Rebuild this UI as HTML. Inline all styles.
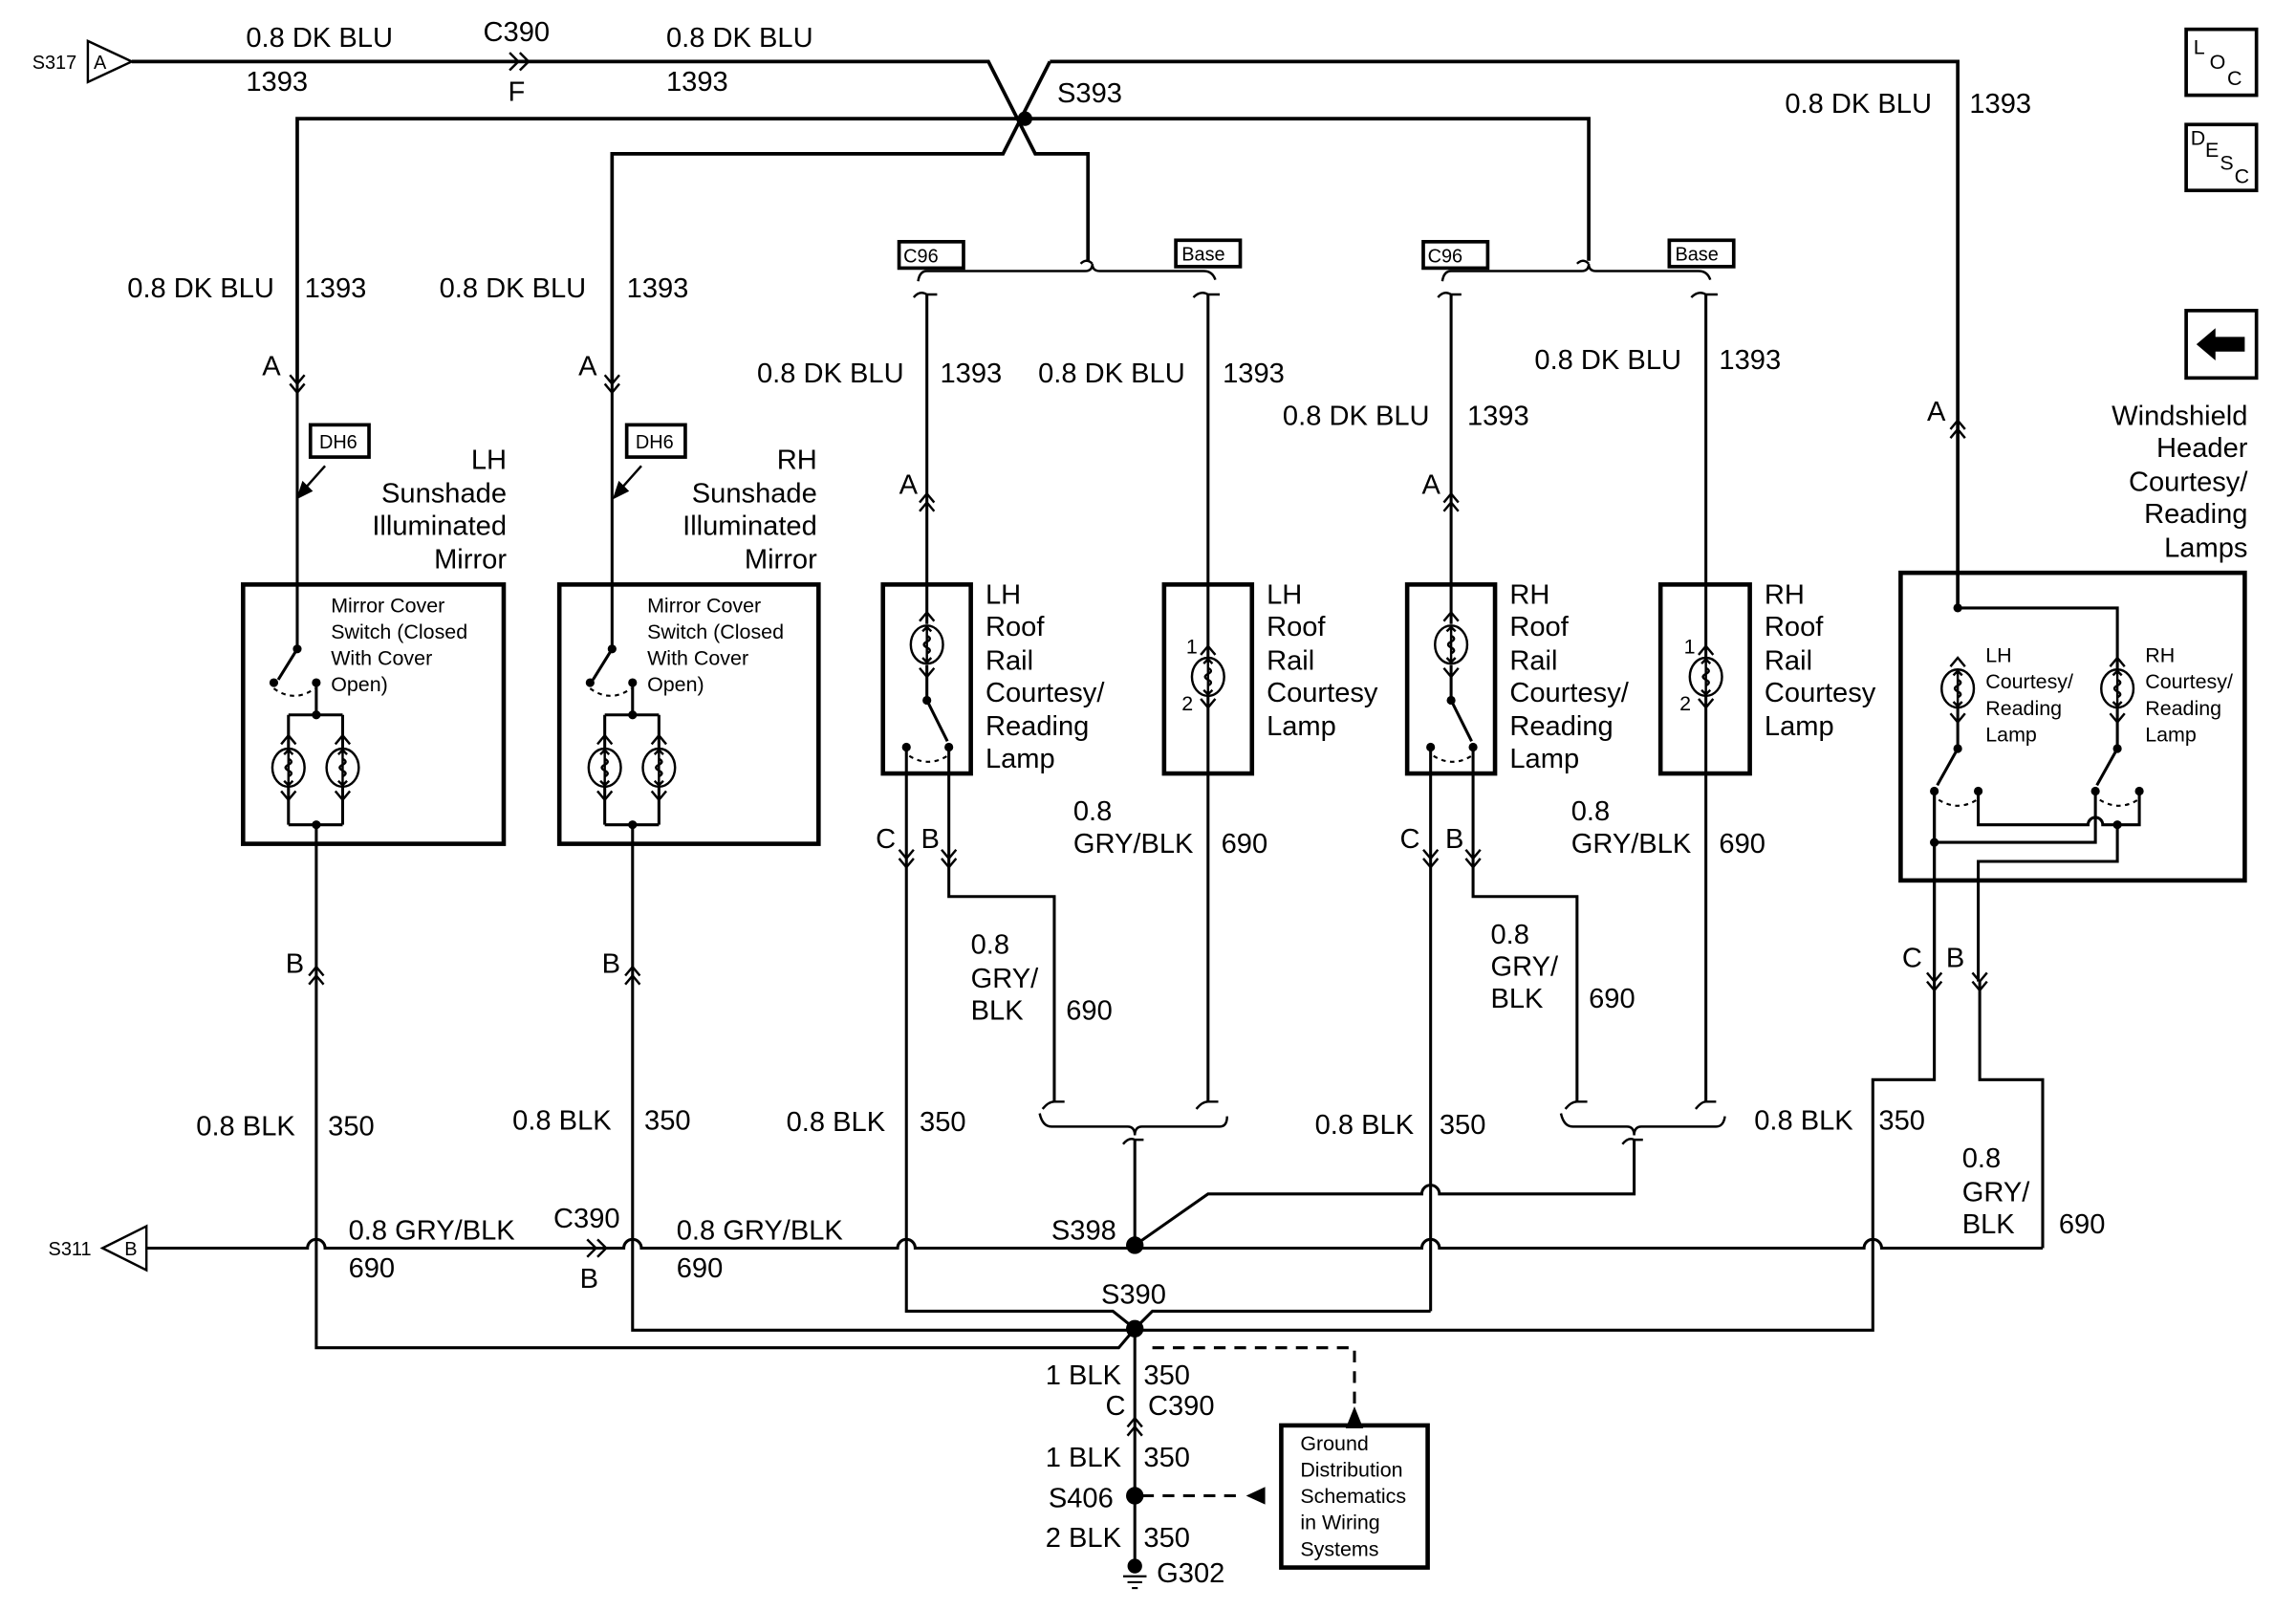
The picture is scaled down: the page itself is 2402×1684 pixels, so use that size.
<!DOCTYPE html>
<html><head><meta charset="utf-8"><style>
html,body{margin:0;padding:0;background:#fff}
svg{display:block}
text{font-family:"Liberation Sans",sans-serif;font-size:19px;fill:#000}
.s{font-size:14px}
.t{font-size:13px}
</style></head><body>
<svg width="2402" height="1684" viewBox="0 0 1568 1099" preserveAspectRatio="none" xmlns="http://www.w3.org/2000/svg">
<defs>
<g id="fdd"><path d="M-5,-12 L0,-6 L5,-12 M-5,-6 L0,0 L5,-6" fill="none" stroke="#000" stroke-width="1.6"/></g>
<g id="fuu"><path d="M-5,12 L0,6 L5,12 M-5,6 L0,0 L5,6" fill="none" stroke="#000" stroke-width="1.6"/></g>
<g id="lamp" fill="none" stroke="#000" stroke-width="1.6">
<ellipse cx="0" cy="0" rx="11" ry="13" fill="#fff"/>
<path d="M0,-12 L0,12 M-3,-9 L0,-12 L3,-9 M-3,9 L0,12 L3,9 M0,-6 q4,2 0,4 q-4,2 0,4 q4,2 0,4"/>
</g>
</defs>
<g fill="none" stroke="#000" stroke-width="2">
<polygon points="60,28 90,42 60,56" stroke-width="1.6"/>
<path d="M90,42 H675 L707,105 H743 V178" stroke-width="2.4"/>
<path d="M717,42 H1337 V415" stroke-width="2.4"/>
<path d="M717,42 L685,105 H418 V262" stroke-width="2.4"/>
<path d="M203,262 V81 H1085 V178" stroke-width="2.4"/>
<path d="M348,36 L354,42 L348,48 M355,36 L361,42 L355,48" stroke-width="1.6"/>
<path d="M627,192 Q628,185 633,185 H741 Q746,185 746,180 Q746,185 751,185 H822 Q828,185 830,191" stroke-width="1.6"/>
<path d="M738,180 Q742,176 746,180" stroke-width="1.6"/>
<path d="M624,203 Q628,198 633,201 H640" stroke-width="1.6"/>
<path d="M815,203 Q820,198 825,201 H833" stroke-width="1.6"/>
<path d="M985,192 Q986,185 991,185 H1080 Q1085,185 1085,180 Q1085,185 1090,185 H1160 Q1166,185 1168,191" stroke-width="1.6"/>
<path d="M1077,180 Q1081,176 1085,180" stroke-width="1.6"/>
<path d="M982,203 Q986,198 991,201 H998" stroke-width="1.6"/>
<path d="M1155,203 Q1160,198 1165,201 H1173" stroke-width="1.6"/>
<rect x="166" y="399" width="178" height="177" stroke-width="3"/>
<path d="M203,262 V443 L190,464"/>
<path d="M216,466 V488 M197,488 H234 M197,488 V511 M234,488 V511 M197,537 V563 M234,537 V563 M197,563 H234 M216,563 V920 H764 L775,907"/>
<path d="M187,470 q14,10 28,0" stroke-dasharray="3,3" stroke-width="1.4"/>
<path d="M222,318 L206,336" stroke-width="1.6"/><path d="M204,339 L207,330 L212,335Z" fill="#000"/>
<rect x="212" y="290" width="40" height="22" stroke-width="2.4"/>
<rect x="382" y="399" width="177" height="177" stroke-width="3"/>
<path d="M418,262 V443 L405,464"/>
<path d="M432,466 V488 M413,488 H450 M413,488 V511 M450,488 V511 M413,537 V563 M450,537 V563 M413,563 H450 M432,563 V908 H1279 V737 H1321 V540"/>
<path d="M403,470 q14,10 28,0" stroke-dasharray="3,3" stroke-width="1.4"/>
<path d="M438,318 L422,336" stroke-width="1.6"/><path d="M420,339 L423,330 L428,335Z" fill="#000"/>
<rect x="428" y="290" width="40" height="22" stroke-width="2.4"/>
<rect x="614" y="165" width="44" height="18" stroke-width="2.4"/>
<rect x="803" y="164" width="44" height="18" stroke-width="2.4"/>
<rect x="972" y="165" width="44" height="18" stroke-width="2.4"/>
<rect x="1140" y="164" width="44" height="18" stroke-width="2.4"/>
<rect x="603" y="399" width="60" height="129" stroke-width="3"/>
<path d="M633,201 V426 M633,454 V478 L647,506"/>
<path d="M619,511 V895 H760 L775,907 L787,895 H977"/>
<path d="M648,511 V612 H720 V752"/>
<path d="M621,516 q13,8 26,0" stroke-dasharray="3,3" stroke-width="1.4"/>
<rect x="795" y="399" width="60" height="129" stroke-width="3"/>
<path d="M825,201 V449 M825,475 V752"/>
<rect x="961" y="399" width="60" height="129" stroke-width="3"/>
<path d="M991,201 V426 M991,454 V478 L1005,506"/>
<path d="M977,511 V895"/>
<path d="M1006,511 V612 H1077 V752"/>
<path d="M979,516 q13,8 26,0" stroke-dasharray="3,3" stroke-width="1.4"/>
<rect x="1134" y="399" width="61" height="129" stroke-width="3"/>
<path d="M1165,201 V449 M1165,475 V752"/>
<rect x="1298" y="391" width="235" height="210" stroke-width="3"/>
<path d="M1337,415 H1446 V457 M1337,483 V511 L1323,536 M1446,483 V511 L1432,536"/>
<path d="M1321,540 V670"/>
<path d="M1351,540 V563 H1426 a5,5 0 0 1 10,0 H1461 V540"/>
<path d="M1321,575 H1431 V540"/>
<path d="M1446,563 V588 H1351 V670"/>
<path d="M1324,546 q13,8 26,0 M1434,546 q13,8 26,0" stroke-dasharray="3,3" stroke-width="1.4"/>
<path d="M1352,670 V737 H1395 V852"/>
<path d="M710,760 Q712,769 718,769 H770 Q775,769 775,775 Q775,769 780,769 H833 Q838,769 838,762" stroke-width="1.6"/>
<path d="M712,757 Q716,752 720,752 H727" stroke-width="1.6"/>
<path d="M817,757 Q821,752 825,752 H832" stroke-width="1.6"/>
<path d="M767,781 Q771,776 775,778 H781" stroke-width="1.6"/>
<path d="M1066,760 Q1068,769 1074,769 H1111 Q1116,769 1116,775 Q1116,769 1121,769 H1172 Q1177,769 1178,762" stroke-width="1.6"/>
<path d="M1069,757 Q1073,752 1077,752 H1084" stroke-width="1.6"/>
<path d="M1158,757 Q1162,752 1165,752 H1172" stroke-width="1.6"/>
<path d="M1108,781 Q1112,776 1116,778 H1122" stroke-width="1.6"/>
<path d="M775,778 V850 L825,815 H971 a6,6 0 0 1 12,0 H1116 V778"/>
<polygon points="100,837 70,852 100,867" stroke-width="1.6"/>
<path d="M100,852 H210 a6,6 0 0 1 12,0 H426 a6,6 0 0 1 12,0 H613 a6,6 0 0 1 12,0 H971 a6,6 0 0 1 12,0 H1273 a6,6 0 0 1 12,0 H1395"/>
<path d="M401,846 L407,852 L401,858 M408,846 L414,852 L408,858" stroke-width="1.6"/>
<path d="M775,907 V1068"/>
<path d="M787,920 H925 V962" stroke-dasharray="8,6"/>
<path d="M919,975 L925,960 L931,975Z" fill="#000" stroke="none"/>
<path d="M780,1021 H850" stroke-dasharray="8,6"/>
<path d="M851,1021 L864,1015 L864,1027Z" fill="#000" stroke="none"/>
<rect x="875" y="973" width="100" height="97" stroke-width="3"/>
<path d="M767,1076 H783 M770,1080 H780 M773,1084 H777" stroke-width="1.4"/>
<rect x="1493" y="20" width="48" height="45" stroke-width="2.4"/>
<rect x="1493" y="85" width="48" height="45" stroke-width="2.4"/>
<rect x="1493" y="212" width="48" height="46" stroke-width="2.4"/>
</g>
<path d="M1500,235 L1513,224 V230 H1533 V240 H1513 V246Z" fill="#000"/>
<use href="#fdd" x="203" y="268"/><use href="#fdd" x="418" y="268"/>
<use href="#fuu" x="633" y="337"/><use href="#fuu" x="991" y="337"/><use href="#fuu" x="1337" y="287"/>
<use href="#fuu" x="216" y="660"/><use href="#fuu" x="432" y="660"/>
<use href="#fdd" x="619" y="592"/><use href="#fdd" x="648" y="592"/>
<use href="#fdd" x="977" y="592"/><use href="#fdd" x="1006" y="592"/>
<use href="#fdd" x="1321" y="676"/><use href="#fdd" x="1352" y="676"/>
<use href="#fuu" x="775" y="968"/>
<g fill="none" stroke="#000" stroke-width="1.6">
<path d="M192,508 L197,502 L202,508 M229,508 L234,502 L239,508 M192,540 L197,546 L202,540 M229,540 L234,546 L239,540"/>
<path d="M408,508 L413,502 L418,508 M445,508 L450,502 L455,508 M408,540 L413,546 L418,540 M445,540 L450,546 L455,540"/>
<path d="M628,424 L633,418 L638,424 M628,456 L633,462 L638,456 M986,424 L991,418 L996,424 M986,456 L991,462 L996,456"/>
<path d="M820,447 L825,441 L830,447 M820,477 L825,483 L830,477 M1160,447 L1165,441 L1170,447 M1160,477 L1165,483 L1170,477"/>
<path d="M1332,455 L1337,449 L1342,455 M1332,487 L1337,493 L1342,487 M1441,455 L1446,449 L1451,455 M1441,487 L1446,493 L1451,487"/>
</g>
<use href="#lamp" x="197" y="524"/><use href="#lamp" x="234" y="524"/>
<use href="#lamp" x="413" y="524"/><use href="#lamp" x="450" y="524"/>
<use href="#lamp" x="633" y="440"/><use href="#lamp" x="825" y="462"/>
<use href="#lamp" x="991" y="440"/><use href="#lamp" x="1165" y="462"/>
<use href="#lamp" x="1337" y="470"/><use href="#lamp" x="1446" y="470"/>
<g fill="#000">
<circle cx="700" cy="81" r="5"/><circle cx="775" cy="850" r="6"/><circle cx="775" cy="907" r="6"/><circle cx="775" cy="1021" r="6"/><circle cx="775" cy="1069" r="5"/>
<circle cx="203" cy="443" r="3"/><circle cx="187" cy="466" r="3"/><circle cx="216" cy="466" r="3"/><circle cx="216" cy="488" r="3"/><circle cx="216" cy="563" r="3"/>
<circle cx="418" cy="443" r="3"/><circle cx="403" cy="466" r="3"/><circle cx="432" cy="466" r="3"/><circle cx="432" cy="488" r="3"/><circle cx="432" cy="563" r="3"/>
<circle cx="633" cy="478" r="3"/><circle cx="619" cy="510" r="3"/><circle cx="648" cy="510" r="3"/>
<circle cx="991" cy="478" r="3"/><circle cx="977" cy="510" r="3"/><circle cx="1006" cy="510" r="3"/>
<circle cx="1337" cy="415" r="3"/><circle cx="1337" cy="511" r="3"/><circle cx="1446" cy="511" r="3"/><circle cx="1321" cy="540" r="3"/><circle cx="1351" cy="540" r="3"/><circle cx="1431" cy="540" r="3"/><circle cx="1461" cy="540" r="3"/><circle cx="1321" cy="575" r="3"/><circle cx="1446" cy="563" r="3"/>
</g>
<text class="t" x="22" y="47">S317</text><text class="t" x="64" y="47">A</text>
<text x="168" y="32">0.8 DK BLU</text><text x="168" y="62">1393</text>
<text x="330" y="28">C390</text><text x="347" y="69">F</text>
<text x="455" y="32">0.8 DK BLU</text><text x="455" y="62">1393</text>
<text x="722" y="70">S393</text>
<text x="1219" y="77">0.8 DK BLU</text><text x="1345" y="77">1393</text>
<text x="87" y="203">0.8 DK BLU</text><text x="208" y="203">1393</text>
<text x="300" y="203">0.8 DK BLU</text><text x="428" y="203">1393</text>
<text x="179" y="256">A</text><text x="395" y="256">A</text>
<text x="614" y="337">A</text><text x="971" y="337">A</text><text x="1316" y="287">A</text>
<text class="t" x="617" y="179">C96</text><text class="t" x="807" y="178">Base</text>
<text class="t" x="975" y="179">C96</text><text class="t" x="1144" y="178">Base</text>
<text class="t" x="218" y="306">DH6</text><text class="t" x="434" y="306">DH6</text>
<g text-anchor="end"><text x="346" y="320">LH</text><text x="346" y="343">Sunshade</text><text x="346" y="365">Illuminated</text><text x="346" y="388">Mirror</text>
<text x="558" y="320">RH</text><text x="558" y="343">Sunshade</text><text x="558" y="365">Illuminated</text><text x="558" y="388">Mirror</text>
<text x="1535" y="290">Windshield</text><text x="1535" y="312">Header</text><text x="1535" y="335">Courtesy/</text><text x="1535" y="357">Reading</text><text x="1535" y="380">Lamps</text></g>
<text class="s" x="226" y="418">Mirror Cover</text><text class="s" x="226" y="436">Switch (Closed</text><text class="s" x="226" y="454">With Cover</text><text class="s" x="226" y="472">Open)</text>
<text class="s" x="442" y="418">Mirror Cover</text><text class="s" x="442" y="436">Switch (Closed</text><text class="s" x="442" y="454">With Cover</text><text class="s" x="442" y="472">Open)</text>
<text class="s" x="1356" y="452">LH</text><text class="s" x="1356" y="470">Courtesy/</text><text class="s" x="1356" y="488">Reading</text><text class="s" x="1356" y="506">Lamp</text>
<text class="s" x="1465" y="452">RH</text><text class="s" x="1465" y="470">Courtesy/</text><text class="s" x="1465" y="488">Reading</text><text class="s" x="1465" y="506">Lamp</text>
<text class="s" x="888" y="990">Ground</text><text class="s" x="888" y="1008">Distribution</text><text class="s" x="888" y="1026">Schematics</text><text class="s" x="888" y="1044">in Wiring</text><text class="s" x="888" y="1062">Systems</text>
<text class="s" x="810" y="446">1</text><text class="s" x="807" y="485">2</text><text class="s" x="1150" y="446">1</text><text class="s" x="1147" y="485">2</text>
<text x="673" y="412">LH</text><text x="673" y="434">Roof</text><text x="673" y="457">Rail</text><text x="673" y="479">Courtesy/</text><text x="673" y="502">Reading</text><text x="673" y="524">Lamp</text>
<text x="865" y="412">LH</text><text x="865" y="434">Roof</text><text x="865" y="457">Rail</text><text x="865" y="479">Courtesy</text><text x="865" y="502">Lamp</text>
<text x="1031" y="412">RH</text><text x="1031" y="434">Roof</text><text x="1031" y="457">Rail</text><text x="1031" y="479">Courtesy/</text><text x="1031" y="502">Reading</text><text x="1031" y="524">Lamp</text>
<text x="1205" y="412">RH</text><text x="1205" y="434">Roof</text><text x="1205" y="457">Rail</text><text x="1205" y="479">Courtesy</text><text x="1205" y="502">Lamp</text>
<text x="517" y="261">0.8 DK BLU</text><text x="642" y="261">1393</text><text x="709" y="261">0.8 DK BLU</text><text x="835" y="261">1393</text>
<text x="876" y="290">0.8 DK BLU</text><text x="1002" y="290">1393</text><text x="1048" y="252">0.8 DK BLU</text><text x="1174" y="252">1393</text>
<text x="598" y="579">C</text><text x="629" y="579">B</text><text x="956" y="579">C</text><text x="987" y="579">B</text>
<text x="1299" y="660">C</text><text x="1329" y="660">B</text>
<text x="195" y="664">B</text><text x="411" y="664">B</text>
<text x="733" y="560">0.8</text><text x="733" y="582">GRY/BLK</text><text x="834" y="582">690</text>
<text x="1073" y="560">0.8</text><text x="1073" y="582">GRY/BLK</text><text x="1174" y="582">690</text>
<text x="663" y="651">0.8</text><text x="663" y="674">GRY/</text><text x="663" y="696">BLK</text><text x="728" y="696">690</text>
<text x="1018" y="644">0.8</text><text x="1018" y="666">GRY/</text><text x="1018" y="688">BLK</text><text x="1085" y="688">690</text>
<text x="134" y="775">0.8 BLK</text><text x="224" y="775">350</text>
<text x="350" y="771">0.8 BLK</text><text x="440" y="771">350</text>
<text x="537" y="772">0.8 BLK</text><text x="628" y="772">350</text>
<text x="898" y="774">0.8 BLK</text><text x="983" y="774">350</text>
<text x="1198" y="771">0.8 BLK</text><text x="1283" y="771">350</text>
<text x="1340" y="797">0.8</text><text x="1340" y="820">GRY/</text><text x="1340" y="842">BLK</text><text x="1406" y="842">690</text>
<text class="t" x="33" y="857">S311</text><text class="t" x="85" y="857">B</text>
<text x="238" y="846">0.8 GRY/BLK</text><text x="238" y="872">690</text>
<text x="378" y="838">C390</text><text x="396" y="879">B</text>
<text x="462" y="846">0.8 GRY/BLK</text><text x="462" y="872">690</text>
<text x="718" y="846">S398</text><text x="752" y="890">S390</text>
<text x="714" y="945">1 BLK</text><text x="781" y="945">350</text>
<text x="755" y="966">C</text><text x="784" y="966">C390</text>
<text x="714" y="1001">1 BLK</text><text x="781" y="1001">350</text>
<text x="716" y="1029">S406</text>
<text x="714" y="1056">2 BLK</text><text x="781" y="1056">350</text>
<text x="790" y="1080">G302</text>
<text class="s" x="1498" y="37">L</text><text class="s" x="1509" y="47">O</text><text class="s" x="1521" y="58">C</text>
<text class="s" x="1496" y="99">D</text><text class="s" x="1506" y="107">E</text><text class="s" x="1516" y="116">S</text><text class="s" x="1526" y="125">C</text>
</svg>
</body></html>
